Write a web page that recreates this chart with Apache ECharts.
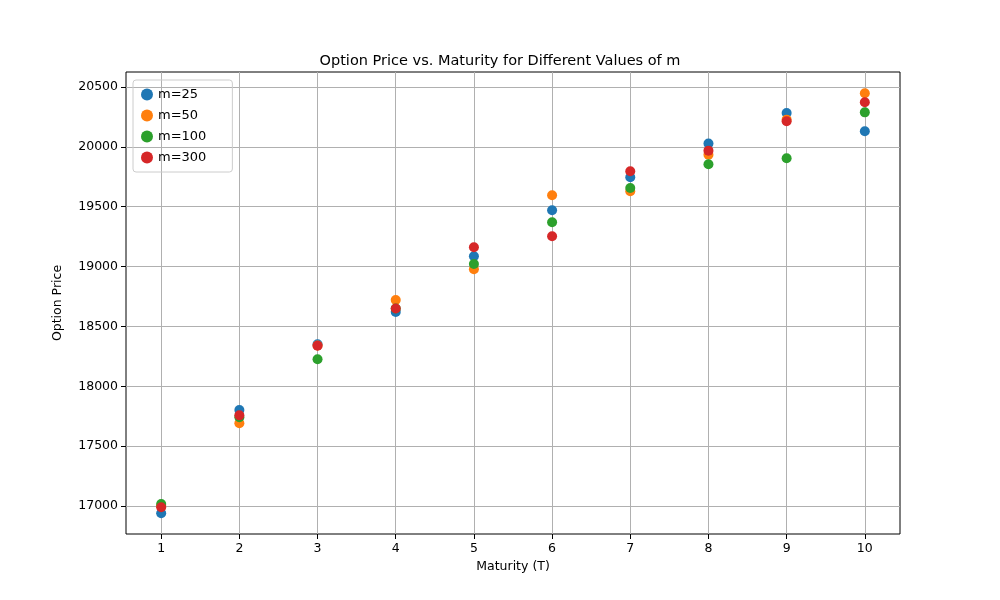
<!DOCTYPE html>
<html lang="en">
<head>
	<meta charset="UTF-8">
	<title>Option Price vs. Maturity</title>
</head>
<style>
	#main{
		width: 1000px;
		height: 600px;
		margin: 0;
	}
	body{ margin: 0; }
</style>
<body>
	<div id="main"></div>
	<script src="https://cdn.jsdelivr.net/npm/echarts@6/dist/echarts.min.js"></script>
	<script>
		var maturities = [1, 2, 3, 4, 5, 6, 7, 8, 9, 10];
		var priceTicks = [17000, 17500, 18000, 18500, 19000, 19500, 20000, 20500];
		var seriesNames = ['m=25', 'm=50', 'm=100', 'm=300'];
		var colors = ['#1f77b4', '#ff7f0e', '#2ca02c', '#d62728'];
		var m25  = [16939, 17802, 18350, 18620, 19086, 19470, 19746, 20027, 20283, 20130];
		var m50  = [17005, 17691, 18340, 18720, 18977, 19595, 19629, 19934, 20227, 20447];
		var m100 = [17017, 17741, 18225, 18650, 19021, 19370, 19656, 19854, 19904, 20288];
		var m300 = [16989, 17757, 18339, 18650, 19161, 19253, 19796, 19968, 20213, 20372];
		var values = [m25, m50, m100, m300];

		var myChart = echarts.init(document.getElementById('main'));
		var labelFont = { color: '#000', fontFamily: 'DejaVu Sans', fontSize: 12.5 };
		var option = {
			animation: false,
			title: {
				text: 'Option Price vs. Maturity for Different Values of m',
				left: 'center',
				top: 49,
				textStyle: { fontFamily: 'DejaVu Sans', fontSize: 14.5, fontWeight: 'normal', color: '#000' }
			},
			legend: {
				data: seriesNames,
				orient: 'vertical',
				left: 133,
				top: 80,
				itemWidth: 12,
				itemHeight: 12,
				itemGap: 8,
				padding: [8, 26, 8, 8],
				borderColor: '#ccc',
				borderWidth: 1,
				borderRadius: 3,
				textStyle: { fontFamily: 'DejaVu Sans', fontSize: 13, color: '#000' }
			},
			grid: {
				left: 126, right: 100, top: 72, bottom: 66,
				show: true, borderColor: '#000', borderWidth: 1
			},
			xAxis: {
				type: 'value',
				min: 0.55, max: 10.45,
				name: 'Maturity (T)', nameLocation: 'middle', nameGap: 26,
				nameTextStyle: { fontFamily: 'DejaVu Sans', fontSize: 12.5, color: '#000' },
				axisLine: { show: false },
				axisTick: { show: true, customValues: maturities, lineStyle: { color: '#000' } },
				axisLabel: Object.assign({ customValues: maturities }, labelFont),
				splitLine: { show: true, lineStyle: { color: '#b0b0b0', width: 1 } }
			},
			yAxis: {
				type: 'value',
				min: 16766, max: 20625,
				name: 'Option Price', nameLocation: 'middle', nameGap: 62,
				nameTextStyle: { fontFamily: 'DejaVu Sans', fontSize: 12.5, color: '#000' },
				axisLine: { show: false },
				axisTick: { show: true, customValues: priceTicks, lineStyle: { color: '#000' } },
				axisLabel: Object.assign({ customValues: priceTicks, formatter: function (v) { return String(v); } }, labelFont),
				splitLine: { show: true, lineStyle: { color: '#b0b0b0', width: 1 } }
			},
			series: seriesNames.map(function (name, i) {
				return {
					name: name,
					type: 'scatter',
					symbolSize: 10,
					itemStyle: { color: colors[i], opacity: 1 },
					data: maturities.map(function (t, j) { return [t, values[i][j]]; })
				};
			})
		};
		myChart.setOption(option);
	</script>
</body>
</html>
